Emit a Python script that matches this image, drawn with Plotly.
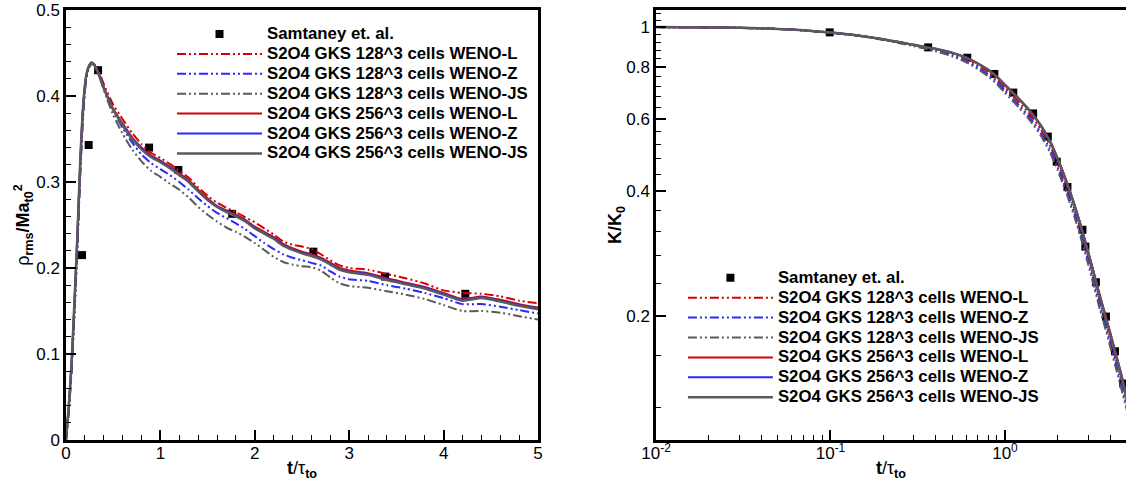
import plotly.graph_objects as go
from plotly.subplots import make_subplots

# ---------------- Left panel data: rho_rms / Ma_t0^2 vs t/tau ----------------
t_left = [0, 0.03, 0.06, 0.09, 0.12, 0.15, 0.18, 0.21, 0.24, 0.27, 0.30, 0.35, 0.4, 0.5, 0.6,
          0.7, 0.8, 0.9, 1.0, 1.1, 1.2, 1.3, 1.4, 1.5, 1.6, 1.7, 1.8, 1.9, 2.0, 2.1, 2.2, 2.3,
          2.4, 2.5, 2.6, 2.7, 2.8, 2.9, 3.0, 3.2, 3.4, 3.6, 3.8, 4.0, 4.2, 4.4, 4.6, 4.8, 5.0]

rho_128_L = [0, 0.035, 0.085, 0.15, 0.225, 0.31, 0.378, 0.418, 0.433, 0.438, 0.437, 0.428, 0.414,
             0.390, 0.373, 0.357, 0.344, 0.334, 0.328, 0.321, 0.313, 0.305, 0.294, 0.284, 0.276,
             0.270, 0.265, 0.259, 0.253, 0.246, 0.239, 0.231, 0.227, 0.225, 0.222, 0.216, 0.209,
             0.203, 0.200, 0.198, 0.193, 0.188, 0.182, 0.174, 0.171, 0.170, 0.167, 0.162, 0.159]
rho_128_Z = [0, 0.033, 0.082, 0.147, 0.222, 0.307, 0.375, 0.416, 0.432, 0.437, 0.436, 0.426, 0.410,
             0.383, 0.363, 0.346, 0.332, 0.322, 0.315, 0.308, 0.300, 0.291, 0.281, 0.272, 0.264,
             0.258, 0.252, 0.245, 0.237, 0.229, 0.222, 0.216, 0.212, 0.209, 0.206, 0.203, 0.196,
             0.190, 0.187, 0.185, 0.180, 0.176, 0.171, 0.165, 0.158, 0.158, 0.155, 0.151, 0.147]
rho_128_JS = [0, 0.034, 0.084, 0.149, 0.224, 0.309, 0.377, 0.417, 0.432, 0.437, 0.436, 0.424, 0.407,
              0.378, 0.356, 0.338, 0.324, 0.313, 0.306, 0.298, 0.291, 0.282, 0.271, 0.262, 0.254,
              0.247, 0.242, 0.236, 0.229, 0.221, 0.213, 0.207, 0.204, 0.202, 0.201, 0.197, 0.189,
              0.182, 0.179, 0.177, 0.173, 0.169, 0.164, 0.157, 0.150, 0.150, 0.148, 0.144, 0.140]
rho_256_L = [0, 0.04, 0.09, 0.16, 0.235, 0.32, 0.385, 0.42, 0.434, 0.439, 0.436, 0.425, 0.410,
             0.385, 0.368, 0.352, 0.340, 0.331, 0.325, 0.318, 0.310, 0.302, 0.291, 0.281, 0.272,
             0.267, 0.262, 0.256, 0.248, 0.242, 0.236, 0.228, 0.223, 0.219, 0.216, 0.212, 0.206,
             0.200, 0.197, 0.194, 0.188, 0.183, 0.178, 0.171, 0.164, 0.167, 0.163, 0.158, 0.154]
rho_256_Z = [0, 0.04, 0.09, 0.16, 0.235, 0.32, 0.385, 0.42, 0.434, 0.439, 0.436, 0.425, 0.410,
             0.385, 0.367, 0.351, 0.339, 0.330, 0.324, 0.317, 0.309, 0.301, 0.290, 0.280, 0.272,
             0.266, 0.261, 0.255, 0.247, 0.241, 0.235, 0.227, 0.222, 0.218, 0.215, 0.211, 0.205,
             0.199, 0.196, 0.193, 0.187, 0.182, 0.177, 0.170, 0.163, 0.166, 0.162, 0.157, 0.153]
rho_256_JS = [0, 0.041, 0.092, 0.162, 0.237, 0.322, 0.386, 0.421, 0.434, 0.439, 0.436, 0.424, 0.409,
              0.384, 0.366, 0.350, 0.338, 0.329, 0.323, 0.316, 0.308, 0.300, 0.289, 0.279, 0.271,
              0.265, 0.260, 0.254, 0.246, 0.240, 0.234, 0.226, 0.221, 0.217, 0.214, 0.210, 0.204,
              0.198, 0.195, 0.192, 0.186, 0.181, 0.176, 0.169, 0.162, 0.165, 0.161, 0.156, 0.152]

samt_t_left = [0.17, 0.24, 0.34, 0.88, 1.19, 1.76, 2.62, 3.38, 4.23]
samt_rho = [0.215, 0.343, 0.430, 0.340, 0.314, 0.263, 0.219, 0.190, 0.170]

# ---------------- Right panel data: K/K0 vs t/tau (log-log) ----------------
t_right = [0.01, 0.02, 0.03, 0.05, 0.07, 0.1, 0.15, 0.2, 0.3, 0.4, 0.5, 0.6, 0.7, 0.8, 0.9, 1.0,
           1.2, 1.4, 1.6, 1.8, 2.0, 2.25, 2.5, 2.75, 3.0, 3.25, 3.5, 3.75, 4.0, 4.5, 5.0]

K_128_L = [1.0, 0.998, 0.996, 0.99, 0.982, 0.97, 0.952, 0.935, 0.905, 0.884, 0.862, 0.836, 0.808,
           0.779, 0.747, 0.713, 0.659, 0.612, 0.567, 0.520, 0.470, 0.413, 0.362, 0.317, 0.278,
           0.245, 0.218, 0.196, 0.177, 0.147, 0.124]
K_128_Z = [1.0, 0.998, 0.996, 0.99, 0.982, 0.97, 0.951, 0.933, 0.902, 0.878, 0.854, 0.828, 0.798,
           0.768, 0.736, 0.702, 0.648, 0.601, 0.556, 0.509, 0.459, 0.403, 0.354, 0.310, 0.272,
           0.239, 0.212, 0.191, 0.173, 0.144, 0.120]
K_128_JS = [1.0, 0.998, 0.996, 0.99, 0.982, 0.969, 0.950, 0.931, 0.899, 0.874, 0.849, 0.822, 0.791,
            0.760, 0.727, 0.693, 0.639, 0.592, 0.547, 0.500, 0.451, 0.396, 0.347, 0.304, 0.266,
            0.234, 0.207, 0.187, 0.169, 0.140, 0.118]
K_256_L = [1.0, 0.998, 0.996, 0.99, 0.982, 0.97, 0.952, 0.935, 0.906, 0.886, 0.866, 0.843, 0.816,
           0.789, 0.758, 0.725, 0.672, 0.625, 0.580, 0.533, 0.482, 0.424, 0.372, 0.326, 0.286,
           0.252, 0.224, 0.202, 0.183, 0.152, 0.128]
K_256_Z = [1.0, 0.998, 0.996, 0.99, 0.982, 0.97, 0.952, 0.935, 0.906, 0.886, 0.866, 0.843, 0.816,
           0.789, 0.758, 0.725, 0.671, 0.624, 0.579, 0.532, 0.481, 0.423, 0.371, 0.325, 0.285,
           0.251, 0.223, 0.201, 0.182, 0.151, 0.127]
K_256_JS = [1.0, 0.998, 0.996, 0.99, 0.982, 0.97, 0.952, 0.935, 0.906, 0.886, 0.866, 0.843, 0.816,
            0.788, 0.757, 0.724, 0.670, 0.623, 0.578, 0.531, 0.480, 0.422, 0.370, 0.324, 0.284,
            0.250, 0.222, 0.200, 0.181, 0.150, 0.126]

samt_t_right = [0.099, 0.363, 0.608, 0.869, 1.116, 1.45, 1.76, 1.98, 2.28, 2.78, 2.89, 3.32, 3.79, 4.27, 4.76]
samt_K = [0.971, 0.893, 0.843, 0.770, 0.694, 0.618, 0.543, 0.472, 0.410, 0.323, 0.294, 0.241, 0.199, 0.164, 0.137]

ref_label = "Samtaney et. al."
names = ["S2O4 GKS 128^3 cells WENO-L", "S2O4 GKS 128^3 cells WENO-Z", "S2O4 GKS 128^3 cells WENO-JS",
         "S2O4 GKS 256^3 cells WENO-L", "S2O4 GKS 256^3 cells WENO-Z", "S2O4 GKS 256^3 cells WENO-JS"]

RED = "rgb(214,0,0)"
BLUE = "rgb(40,40,255)"
GRAY = "rgb(90,90,90)"
DDOT = "9px,3px,2px,3px,2px,3px"
styles = [(RED, DDOT, 2), (BLUE, DDOT, 2), (GRAY, DDOT, 2),
          (RED, "solid", 2), (BLUE, "solid", 2), (GRAY, "solid", 2.5)]

FONT = "Liberation Sans, Arial, Helvetica, sans-serif"


def leg(txt):
    return '<span style="font-size:16.8px"><b>' + txt + '</b></span>'


fig = make_subplots(rows=1, cols=2, horizontal_spacing=0.0)

left_series = [rho_128_L, rho_128_Z, rho_128_JS, rho_256_L, rho_256_Z, rho_256_JS]
right_series = [K_128_L, K_128_Z, K_128_JS, K_256_L, K_256_Z, K_256_JS]

fig.add_trace(go.Scatter(x=samt_t_left, y=samt_rho, mode="markers", name=leg(ref_label),
                         marker=dict(symbol="square", size=8, color="black"), legend="legend"),
              row=1, col=1)
for nm, ys, (c, d, w) in zip(names, left_series, styles):
    fig.add_trace(go.Scatter(x=t_left, y=ys, mode="lines", name=leg(nm), legend="legend",
                             line=dict(color=c, dash=d, width=w, shape="spline", smoothing=0.6)),
                  row=1, col=1)

fig.add_trace(go.Scatter(x=samt_t_right, y=samt_K, mode="markers", name=leg(ref_label),
                         marker=dict(symbol="square", size=8, color="black"), legend="legend2"),
              row=1, col=2)
for nm, ys, (c, d, w) in zip(names, right_series, styles):
    fig.add_trace(go.Scatter(x=t_right, y=ys, mode="lines", name=leg(nm), legend="legend2",
                             line=dict(color=c, dash=d, width=w, shape="spline", smoothing=0.6)),
                  row=1, col=2)

axis_common = dict(showline=True, linecolor="black", linewidth=2.5,
                   ticks="inside", ticklen=10, tickwidth=2, tickcolor="black",
                   showgrid=False, zeroline=False, automargin=False,
                   tickfont=dict(family=FONT, size=17, color="black"))

TITLE_FONT = dict(family=FONT, size=18, color="black")

# Left panel axes
fig.update_xaxes(domain=[0.0, 0.4453], range=[0, 5], tickvals=[0, 1, 2, 3, 4, 5], mirror=True,
                 ticklabelstandoff=-4,
                 minor=dict(ticks="inside", ticklen=5, tickwidth=1, tickcolor="black", dtick=0.2, tick0=0),
                 title=dict(text="<b>t</b>/τ<sub><b>to</b></sub>", font=TITLE_FONT, standoff=0),
                 row=1, col=1, **axis_common)
fig.update_yaxes(range=[0, 0.5], tickvals=[0, 0.1, 0.2, 0.3, 0.4, 0.5], mirror=True,
                 ticktext=["0", "0.1", "0.2", "0.3", "0.4", "0.5"],
                 minor=dict(ticks="inside", ticklen=5, tickwidth=1, tickcolor="black", dtick=0.02, tick0=0),
                 title=dict(text="ρ<sub><b>rms</b></sub><b>/Ma</b><sub><b>t0</b></sub><sup><b>2</b></sup>",
                            font=TITLE_FONT, standoff=0),
                 row=1, col=1, **axis_common)

# Right panel axes
y_minor = [0.12, 0.16, 0.24, 0.28, 0.32, 0.36, 0.44, 0.48, 0.52, 0.56, 0.64, 0.68, 0.72, 0.76,
           0.84, 0.88, 0.92, 0.96, 1.04, 1.08]
fig.update_xaxes(type="log", domain=[0.5566, 1.0], range=[-2, 0.6937], mirror=True,
                 ticklabelstandoff=-4,
                 tickvals=[0.01, 0.1, 1], ticktext=["10<sup>-2</sup>", "10<sup>-1</sup>", "10<sup>0</sup>"],
                 minor=dict(ticks="inside", ticklen=5, tickwidth=1, tickcolor="black",
                            tickvals=[0.02, 0.03, 0.04, 0.05, 0.06, 0.07, 0.08, 0.09,
                                      0.2, 0.3, 0.4, 0.5, 0.6, 0.7, 0.8, 0.9, 2, 3, 4]),
                 title=dict(text="<b>t</b>/τ<sub><b>to</b></sub>", font=TITLE_FONT, standoff=0),
                 row=1, col=2, **axis_common)
fig.update_yaxes(type="log", range=[-1, 0.0414], mirror=False,
                 tickvals=[0.2, 0.4, 0.6, 0.8, 1], ticktext=["0.2", "0.4", "0.6", "0.8", "1"],
                 minor=dict(ticks="inside", ticklen=5, tickwidth=1, tickcolor="black", tickvals=y_minor),
                 title=dict(text="<b>K/K</b><sub><b>0</b></sub>", font=TITLE_FONT, standoff=0),
                 row=1, col=2, **axis_common)

legend_common = dict(bgcolor="rgba(0,0,0,0)", borderwidth=0, tracegroupgap=0,
                     font=dict(family=FONT, size=13, color="black"), itemwidth=85,
                     xanchor="left", yanchor="top")

fig.update_layout(
    width=1126, height=487,
    margin=dict(l=66, r=0, t=10, b=47),
    plot_bgcolor="white", paper_bgcolor="white",
    font=dict(family=FONT, size=16, color="black"),
    showlegend=True,
    legend=dict(x=0.100, y=0.979, **legend_common),
    legend2=dict(x=0.582, y=0.412, **legend_common),
)

fig.write_html("out.html", config={"displayModeBar": False},
               post_script="document.body.style.margin='0';document.body.style.overflow='hidden';")
